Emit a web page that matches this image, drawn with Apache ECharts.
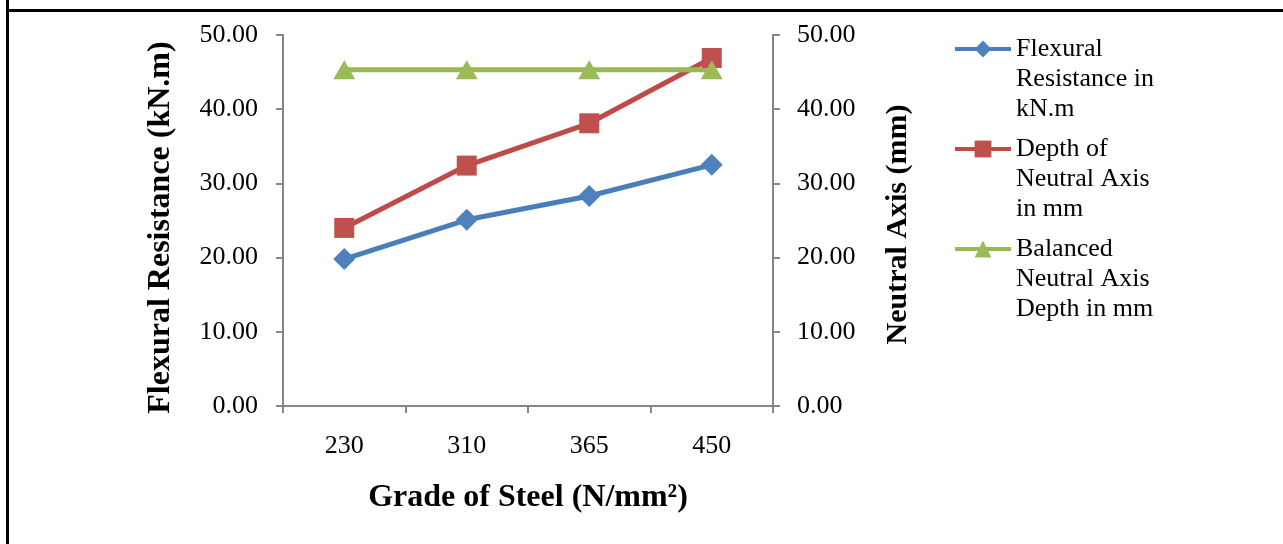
<!DOCTYPE html>
<html>
<head>
<meta charset="utf-8">
<title>Grade of Steel vs Flexural Resistance</title>
<script src="https://cdn.jsdelivr.net/npm/echarts@6/dist/echarts.min.js"></script>
<style>
  html, body { margin: 0; padding: 0; background: #ffffff; }
  #chart { width: 1283px; height: 544px; }
</style>
</head>
<body>
<div id="chart"></div>
<script>
// Steel grades on the category axis
const grades = ['230', '310', '365', '450'];

// Flexural resistance (kN.m), left axis
const flexuralResistance = [19.8, 25.1, 28.3, 32.5];

// Depth of neutral axis (mm), right axis
const neutralAxisDepth = [24.0, 32.4, 38.1, 46.9];

// Balanced neutral axis depth (mm), right axis
const balancedDepth = [45.3, 45.3, 45.3, 45.3];

// Legend labels (wrapped as in the key)
const seriesNames = [
  'Flexural\nResistance in\nkN.m',
  'Depth of\nNeutral Axis\nin mm',
  'Balanced\nNeutral Axis\nDepth in mm'
];

const serif = "'Liberation Serif', 'Times New Roman', serif";
const axisGrey = '#868686';

const chart = echarts.init(document.getElementById('chart'), null, { renderer: 'canvas' });

const valueAxis = (side, title, gap, size, shift, margin) => ({
  type: 'value',
  position: side,
  min: 0,
  max: 50,
  interval: 10,
  name: title,
  nameLocation: 'middle',
  nameGap: gap,
  nameRotate: 90,
  nameTextStyle: {
    fontFamily: serif, fontSize: size, fontWeight: 'bold', color: '#000',
    padding: [0, shift, 0, 0]
  },
  axisLine: { show: true, lineStyle: { color: axisGrey, width: 2 } },
  axisTick: { show: true, length: 7, lineStyle: { color: axisGrey, width: 2 } },
  splitLine: { show: false },
  axisLabel: {
    margin: margin,
    fontFamily: serif,
    fontSize: 26,
    color: '#000',
    formatter: v => v.toFixed(2)
  }
});

chart.setOption({
  animation: false,
  backgroundColor: '#ffffff',
  grid: { left: 283, right: 510, top: 35, bottom: 138 },
  xAxis: {
    type: 'category',
    data: grades,
    boundaryGap: true,
    name: 'Grade of Steel (N/mm²)',
    nameLocation: 'middle',
    nameGap: 76,
    nameTextStyle: { fontFamily: serif, fontSize: 32, fontWeight: 'bold', color: '#000' },
    axisLine: { show: true, onZero: false, lineStyle: { color: axisGrey, width: 2 } },
    axisTick: { show: true, length: 7, lineStyle: { color: axisGrey, width: 2 } },
    axisLabel: { margin: 27, fontFamily: serif, fontSize: 26, color: '#000' }
  },
  yAxis: [
    valueAxis('left', 'Flexural Resistance (kN.m)', 106, 32, 14, 25),
    valueAxis('right', 'Neutral Axis (mm)', 110, 30, 8, 24)
  ],
  legend: {
    orient: 'vertical',
    left: 948,
    top: -31,
    itemWidth: 56,
    itemHeight: 21,
    itemGap: -50,
    data: seriesNames,
    // two leading blank lines keep the key icon level with the first text line
    formatter: name => '\n\n' + name,
    lineStyle: { width: 4 },
    textStyle: {
      fontFamily: serif,
      fontSize: 26,
      color: '#000',
      lineHeight: 30
    }
  },
  graphic: [
    {
      type: 'line',
      shape: { x1: 7.5, y1: 0, x2: 7.5, y2: 544 },
      style: { stroke: '#000', lineWidth: 3 }
    },
    {
      type: 'line',
      shape: { x1: 6, y1: 10.5, x2: 1283, y2: 10.5 },
      style: { stroke: '#000', lineWidth: 3 }
    }
  ],
  series: [
    {
      name: seriesNames[0],
      type: 'line',
      yAxisIndex: 0,
      data: flexuralResistance,
      symbol: 'diamond',
      symbolSize: 22,
      lineStyle: { color: '#4A7EBB', width: 5 },
      itemStyle: { color: '#4F81BD' }
    },
    {
      name: seriesNames[1],
      type: 'line',
      yAxisIndex: 1,
      data: neutralAxisDepth,
      symbol: 'rect',
      symbolSize: 20,
      lineStyle: { color: '#BE4B48', width: 5 },
      itemStyle: { color: '#C0504D' }
    },
    {
      name: seriesNames[2],
      type: 'line',
      yAxisIndex: 1,
      data: balancedDepth,
      symbol: 'triangle',
      symbolSize: [22, 19],
      lineStyle: { color: '#98B954', width: 5 },
      itemStyle: { color: '#9BBB59' }
    }
  ]
});
</script>
</body>
</html>
